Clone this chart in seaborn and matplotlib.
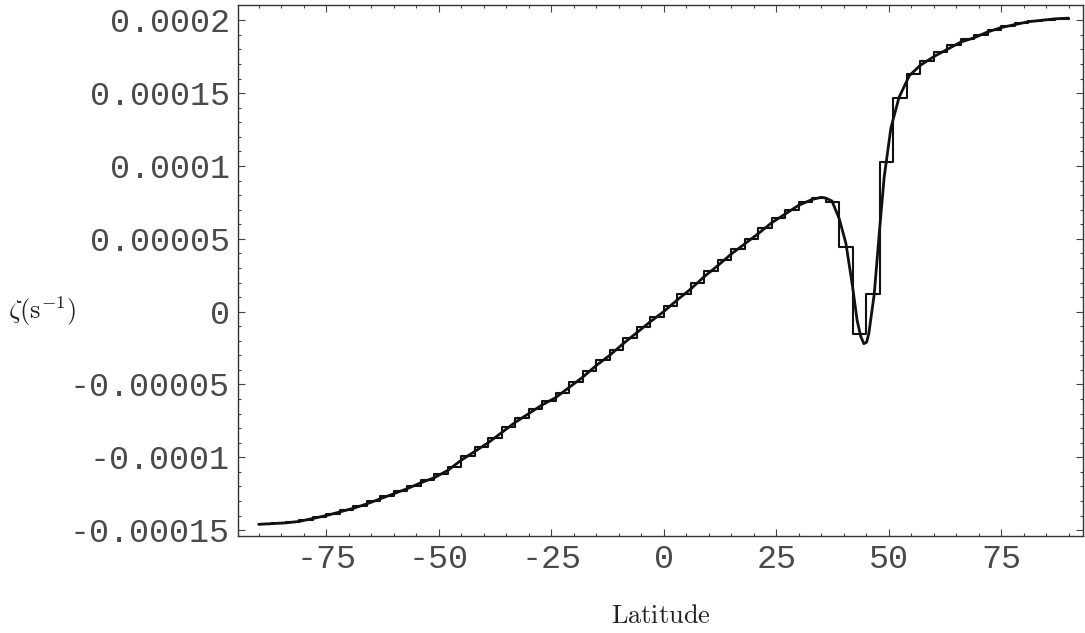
import numpy as np
import pandas as pd
import matplotlib
matplotlib.use('Agg')
import matplotlib.pyplot as plt
import seaborn as sns

# smooth curve
curve_lat = [-90, -87, -84, -81, -78, -75, -72, -69, -66, -63, -60, -57, -54, -51, -48, -45,
             -42, -39, -36, -33, -30, -27, -24, -21, -18, -15, -12, -9, -6, -3, 0,
             3, 6, 9, 12, 15, 18, 21, 24, 27, 30, 33, 35, 36, 37.4, 39, 40.5, 41.9, 43,
             43.8, 44.5, 45.1, 45.6, 46.8, 47.9, 49, 50.5, 52.3, 54.6, 57, 60, 63, 66, 69,
             72, 75, 78, 81, 84, 87, 90]
curve_zeta = [-1.46e-4, -1.455e-4, -1.45e-4, -1.44e-4, -1.42e-4, -1.40e-4, -1.375e-4, -1.35e-4,
              -1.32e-4, -1.285e-4, -1.25e-4, -1.215e-4, -1.175e-4, -1.14e-4, -1.09e-4, -1.02e-4,
              -9.6e-5, -9.0e-5, -8.3e-5, -7.6e-5, -7.0e-5, -6.4e-5, -5.9e-5, -5.2e-5, -4.5e-5,
              -3.7e-5, -3.0e-5, -2.2e-5, -1.45e-5, -7e-6, 0.0,
              8e-6, 1.55e-5, 2.4e-5, 3.15e-5, 3.95e-5, 4.65e-5, 5.35e-5, 6.1e-5, 6.7e-5, 7.3e-5,
              7.7e-5, 7.85e-5, 7.8e-5, 7.6e-5, 6.4e-5, 4.7e-5, 1.9e-5, -6e-6,
              -1.7e-5, -2.2e-5, -2.1e-5, -1.5e-5, 1.2e-5, 5.3e-5, 9.2e-5, 1.26e-4, 1.47e-4,
              1.62e-4, 1.69e-4, 1.75e-4, 1.80e-4, 1.85e-4, 1.88e-4, 1.92e-4, 1.95e-4, 1.97e-4,
              1.99e-4, 2.0e-4, 2.01e-4, 2.015e-4]

# 3 degree cells, value of each cell
cell_edges = list(range(-90, 91, 3))
cell_zeta = [-1.458e-4, -1.452e-4, -1.445e-4, -1.43e-4, -1.41e-4, -1.39e-4, -1.362e-4, -1.335e-4,
             -1.302e-4, -1.268e-4, -1.232e-4, -1.195e-4, -1.158e-4, -1.115e-4, -1.068e-4, -9.9e-5,
             -9.3e-5, -8.65e-5, -7.95e-5, -7.3e-5, -6.7e-5, -6.15e-5, -5.55e-5, -4.85e-5, -4.1e-5,
             -3.35e-5, -2.6e-5, -1.8e-5, -1.05e-5, -3.5e-6,
             4e-6, 1.18e-5, 1.98e-5, 2.78e-5, 3.55e-5, 4.3e-5, 5.0e-5, 5.72e-5, 6.4e-5, 7.0e-5,
             7.52e-5, 7.8e-5, 7.5e-5, 4.45e-5, -1.5e-5, 1.2e-5, 1.03e-4, 1.47e-4, 1.63e-4, 1.72e-4,
             1.78e-4, 1.83e-4, 1.87e-4, 1.90e-4, 1.935e-4, 1.96e-4, 1.98e-4, 1.995e-4, 2.005e-4,
             2.012e-4]

x_ticks = [-75, -50, -25, 0, 25, 50, 75]
y_ticks = [-0.00015, -0.0001, -0.00005, 0, 0.00005, 0.0001, 0.00015, 0.0002]
y_labels = ['-0.00015', '-0.0001', '-0.00005', '0', '0.00005', '0.0001', '0.00015', '0.0002']

sns.set_style('ticks')
plt.rcParams['mathtext.fontset'] = 'cm'
plt.rcParams['font.family'] = ['Liberation Mono', 'DejaVu Sans Mono']

fig = plt.figure(figsize=(10.85, 6.33), dpi=100)
ax = fig.add_axes([238 / 1085, 1 - 536 / 633, (1083 - 238) / 1085, (536 - 5) / 633])

sns.lineplot(x=curve_lat, y=curve_zeta, ax=ax, color='#111111', lw=2.0, sort=False)
step_x = cell_edges
step_y = cell_zeta + [cell_zeta[-1]]
sns.lineplot(x=step_x, y=step_y, ax=ax, color='#111111', lw=1.5, drawstyle='steps-post', sort=False)

ax.set_xlim(-94.6, 93.2)
ax.set_ylim(-0.000154, 0.0002105)
ax.set_xticks(x_ticks)
ax.set_xticklabels([str(t) for t in x_ticks])
ax.set_xticks(np.arange(-90, 91, 5), minor=True)
ax.set_yticks(y_ticks)
ax.set_yticklabels(y_labels)
ax.set_yticks(np.arange(-0.00015, 0.00021, 0.00001), minor=True)

ax.tick_params(which='both', direction='in', top=True, right=True, colors='#444444',
               labelcolor='#4a4a4a', labelsize=24, width=0.8)
ax.tick_params(which='major', length=5, pad=6)
ax.tick_params(which='minor', length=2.5)
for s in ax.spines.values():
    s.set_linewidth(1.0)
    s.set_color('#333333')

ax.set_xlabel('')
ax.set_ylabel('')
fig.text(661 / 1085, 1 - 616 / 633, r'$\mathrm{Latitude}$', ha='center', va='center',
         fontsize=19, color='#222222')
fig.text(8 / 1085, 1 - 311 / 633, r'$\zeta(\mathrm{s}^{-1})$', ha='left', va='center',
         fontsize=19, color='#222222')

fig.savefig('out.png', dpi=100)
